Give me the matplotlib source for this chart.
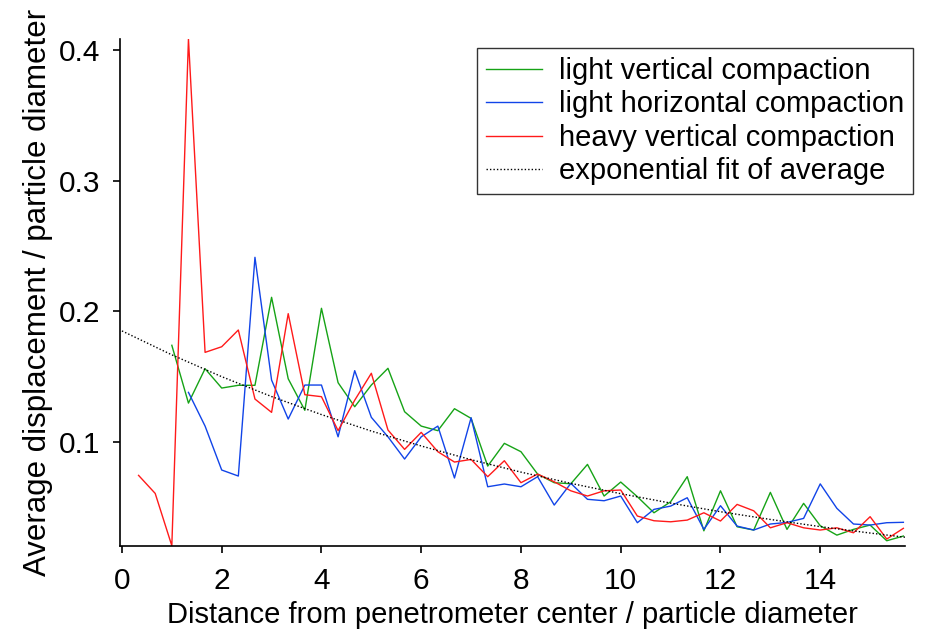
import matplotlib
matplotlib.use("Agg")
import matplotlib.pyplot as plt

plt.rcParams['font.family'] = ['Liberation Sans', 'DejaVu Sans']

# sample positions (distance / particle diameter), spacing of one third
distance = [k / 3 for k in range(1, 48)]

light_vertical = [  # starts at distance 1.0
    0.174, 0.1298, 0.1561, 0.1413, 0.1434, 0.1434, 0.2107, 0.1484, 0.1243, 0.2023,
    0.1454, 0.127, 0.1436, 0.1564, 0.1232, 0.1122, 0.1087, 0.1255, 0.1181, 0.0816,
    0.099, 0.0926, 0.0755, 0.0689, 0.0681, 0.0829, 0.0587, 0.0694, 0.0582, 0.0459,
    0.0543, 0.0735, 0.0321, 0.0627, 0.0352, 0.0327, 0.0615, 0.0332, 0.0531, 0.036,
    0.0288, 0.0332, 0.0365, 0.0245, 0.0281]

light_horizontal = [  # starts at distance 1.333
    0.138, 0.1122, 0.0786, 0.074, 0.2413, 0.1474, 0.1176, 0.1436, 0.1436, 0.104,
    0.1546, 0.1189, 0.104, 0.087, 0.104, 0.1122, 0.0725, 0.1186, 0.0658, 0.0679,
    0.0658, 0.0735, 0.0518, 0.0684, 0.0562, 0.0551, 0.0587, 0.0383, 0.0485, 0.051,
    0.0574, 0.0332, 0.0513, 0.0357, 0.0327, 0.0373, 0.0385, 0.0416, 0.068, 0.0493,
    0.0373, 0.0365, 0.0383, 0.0386]

heavy_vertical = [  # starts at distance 0.333
    0.0745, 0.0607, 0.0207, 0.4083, 0.1686, 0.1729, 0.1857, 0.1329, 0.1227, 0.1982,
    0.1362, 0.1347, 0.1087, 0.132, 0.1526, 0.1092, 0.0944, 0.1074, 0.0926, 0.0847,
    0.0867, 0.0735, 0.0857, 0.0689, 0.0755, 0.0696, 0.0627, 0.0587, 0.0627, 0.0633,
    0.0434, 0.0398, 0.039, 0.0403, 0.0459, 0.0396, 0.0523, 0.0474, 0.0344, 0.0383,
    0.0344, 0.0327, 0.0344, 0.0306, 0.0429, 0.0258, 0.034]

fit_x = [0, 1, 2, 3, 4, 5, 6, 7, 8, 9, 10, 11, 12, 13, 14, 15, 15.7]
fit_y = [0.185, 0.1667, 0.150, 0.1348, 0.121, 0.1084, 0.097, 0.0865, 0.077,
         0.0684, 0.0605, 0.0533, 0.0467, 0.0408, 0.0353, 0.0304, 0.0272]

x_ticks = [0, 2, 4, 6, 8, 10, 12, 14]
y_ticks = [0.1, 0.2, 0.3, 0.4]

fig = plt.figure(figsize=(9.27, 6.37), dpi=100)
ax = fig.add_axes([0.1294, 0.1433, 0.9763 - 0.1294, 0.9388 - 0.1433])

ax.plot(distance[2:], light_vertical, color='#16a316', lw=1.0,
        label='light vertical compaction')
ax.plot(distance[3:], light_horizontal, color='#1144e8', lw=1.0,
        label='light horizontal compaction')
ax.plot(distance, heavy_vertical, color='#ff1a1a', lw=1.0,
        label='heavy vertical compaction')
ax.plot(fit_x, fit_y, color='black', lw=1.0, ls=(0, (1, 1.5)),
        label='exponential fit of average')

ax.set_xlim(-0.04, 15.7)
ax.set_ylim(min(heavy_vertical), max(heavy_vertical))
ax.set_xticks(x_ticks)
ax.set_yticks(y_ticks)
ax.set_xticklabels([str(t) for t in x_ticks])
ax.set_yticklabels([f'{t:.1f}' for t in y_ticks])

for s in ['top', 'right']:
    ax.spines[s].set_visible(False)
for s in ['left', 'bottom']:
    ax.spines[s].set_linewidth(1.2)
ax.tick_params(direction='out', length=5, width=1.2, labelsize=21.5)
ax.tick_params(axis='x', pad=10)
ax.tick_params(axis='y', pad=9)

ax.set_xlabel('Distance from penetrometer center / particle diameter',
              fontsize=21, labelpad=5)
ax.set_ylabel('Average displacement / particle diameter', fontsize=22.5,
              labelpad=4)

leg = ax.legend(loc='upper right', bbox_to_anchor=(913 / 927, 1 - 48 / 637),
                bbox_transform=fig.transFigure,
                fontsize=21, frameon=True, fancybox=False,
                edgecolor='black', handlelength=1.9, borderpad=0.3,
                labelspacing=0.19, handletextpad=0.6, borderaxespad=0.0)
leg.get_frame().set_linewidth(1.0)

fig.savefig('out.png', dpi=100)
